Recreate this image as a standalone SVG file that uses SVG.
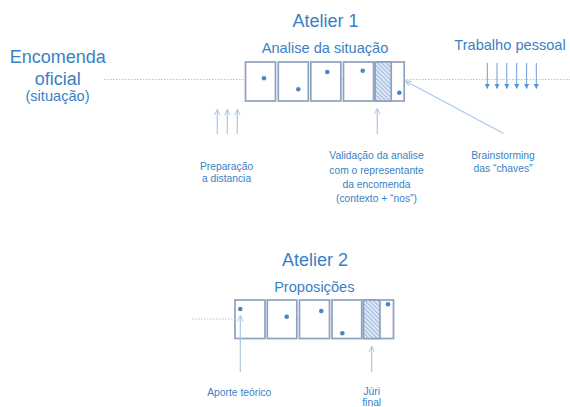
<svg xmlns="http://www.w3.org/2000/svg" width="570" height="407" viewBox="0 0 570 407">
<style>
  text { font-family: "Liberation Sans", Arial, sans-serif; fill: #3a7fc6; text-anchor: middle; }
  .big { font-size: 18px; }
  .mid { font-size: 14.6px; }
  .sm { font-size: 10.3px; }
  .box { fill: #ffffff; stroke: #8da2bf; stroke-width: 1.7; }
  .hat { fill: url(#hatch); stroke: #8da2bf; stroke-width: 1.7; }
  .dot { fill: #5083c3; }
  .dash { stroke: #a9c7e8; stroke-width: 1; stroke-dasharray: 1.5 1.5; fill: none; }
  .arr { stroke: #aac6e6; stroke-width: 1.2; fill: none; }
  .darr { stroke: #6a9fd6; stroke-width: 1; fill: none; }
</style>
<defs>
  <pattern id="hatch" patternUnits="userSpaceOnUse" width="3" height="3" patternTransform="rotate(-45)">
    <rect width="3" height="3" fill="#dfe9f5"/>
    <line x1="0" y1="0" x2="0" y2="3" stroke="#6e98cc" stroke-width="1.2"/>
  </pattern>
  <marker id="open" viewBox="0 0 10 10" refX="9" refY="5" markerWidth="7" markerHeight="7" orient="auto" markerUnits="userSpaceOnUse">
    <path d="M1,1 L9,5 L1,9" fill="none" stroke="#aac6e6" stroke-width="1.4"/>
  </marker>
  <marker id="tri" viewBox="0 0 10 10" refX="9" refY="5" markerWidth="5" markerHeight="5" orient="auto" markerUnits="userSpaceOnUse">
    <path d="M0,0 L10,5 L0,10 Z" fill="#5b93d2"/>
  </marker>
</defs>

<g id="connectors">
  <line class="dash" x1="104" y1="79.5" x2="570" y2="79.5"/>
  <line class="dash" x1="192" y1="319" x2="393" y2="319"/>
  <line class="arr" x1="217.3" y1="134" x2="217.3" y2="109.5" marker-end="url(#open)"/>
  <line class="arr" x1="227.3" y1="134" x2="227.3" y2="109.5" marker-end="url(#open)"/>
  <line class="arr" x1="237.3" y1="134" x2="237.3" y2="109.5" marker-end="url(#open)"/>
  <line class="arr" x1="377.3" y1="134" x2="377.3" y2="108.5" marker-end="url(#open)"/>
  <line class="arr" x1="503.5" y1="133.5" x2="405.5" y2="81" marker-end="url(#open)"/>
  <line class="darr" x1="487.3" y1="63" x2="487.3" y2="88.5" marker-end="url(#tri)"/>
  <line class="darr" x1="497" y1="63" x2="497" y2="88.5" marker-end="url(#tri)"/>
  <line class="darr" x1="506.8" y1="63" x2="506.8" y2="88.5" marker-end="url(#tri)"/>
  <line class="darr" x1="516.7" y1="63" x2="516.7" y2="88.5" marker-end="url(#tri)"/>
  <line class="darr" x1="526.6" y1="63" x2="526.6" y2="88.5" marker-end="url(#tri)"/>
  <line class="darr" x1="536.3" y1="63" x2="536.3" y2="88.5" marker-end="url(#tri)"/>
</g>

<g id="atelier1-boxes">
  <rect class="box" x="245.5" y="62" width="30" height="39"/>
  <rect class="box" x="278.3" y="62" width="30" height="39"/>
  <rect class="box" x="310.8" y="62" width="30" height="39"/>
  <rect class="box" x="343.5" y="62" width="30" height="39"/>
  <rect class="box" x="375.2" y="62" width="29" height="39"/>
  <rect class="hat" x="375.2" y="62" width="16" height="39"/>
  <circle class="dot" cx="264" cy="78.3" r="2.3"/>
  <circle class="dot" cx="298.3" cy="89.3" r="2.3"/>
  <circle class="dot" cx="327.3" cy="72" r="2.3"/>
  <circle class="dot" cx="362.7" cy="70.7" r="2.3"/>
  <circle class="dot" cx="399.3" cy="92.7" r="2.3"/>
</g>

<g id="atelier2-boxes">
  <rect class="box" x="235" y="300" width="30" height="38.5"/>
  <rect class="box" x="267.3" y="300" width="29.5" height="38.5"/>
  <rect class="box" x="299.5" y="300" width="30" height="38.5"/>
  <rect class="box" x="332" y="300" width="29.7" height="38.5"/>
  <rect class="box" x="363.5" y="300" width="30" height="38.5"/>
  <rect class="hat" x="363.5" y="300" width="16.5" height="38.5"/>
  <circle class="dot" cx="240.3" cy="309" r="2.3"/>
  <circle class="dot" cx="286.7" cy="316.7" r="2.3"/>
  <circle class="dot" cx="321.3" cy="311" r="2.3"/>
  <circle class="dot" cx="342.3" cy="333.3" r="2.3"/>
  <circle class="dot" cx="388" cy="304.3" r="2.3"/>
</g>

<g id="connectors2">
  <line class="arr" x1="240.3" y1="372" x2="240.3" y2="315.5" marker-end="url(#open)"/>
  <line class="arr" x1="371.7" y1="372" x2="371.7" y2="346.5" marker-end="url(#open)"/>
</g>

<g id="encomenda">
  <text class="big" x="57.8" y="63">Encomenda</text>
  <text class="big" x="57.7" y="84.5">oficial</text>
  <text class="mid" x="57.5" y="101">(situação)</text>
</g>
<g id="atelier1-title">
  <text class="big" x="325.5" y="26.5">Atelier 1</text>
  <text class="mid" x="325" y="53">Analise da situação</text>
</g>
<g id="trabalho">
  <text class="mid" x="510" y="50">Trabalho pessoal</text>
</g>
<g id="preparacao">
  <text class="sm" x="226.5" y="169.5">Preparação</text>
  <text class="sm" x="226.5" y="182">a distancia</text>
</g>
<g id="validacao">
  <text class="sm" x="376.5" y="159">Validação da analise</text>
  <text class="sm" x="376.5" y="173.5">com o representante</text>
  <text class="sm" x="376.5" y="187.5">da encomenda</text>
  <text class="sm" x="376.5" y="202">(contexto + “nos”)</text>
</g>
<g id="brainstorming">
  <text class="sm" x="503" y="159">Brainstorming</text>
  <text class="sm" x="503" y="172">das “chaves”</text>
</g>
<g id="atelier2-title">
  <text class="big" x="315" y="265.5">Atelier 2</text>
  <text class="mid" x="314.3" y="291.5">Proposições</text>
</g>
<g id="aporte">
  <text class="sm" x="239.3" y="396">Aporte teórico</text>
</g>
<g id="juri">
  <text class="sm" x="371.7" y="394.5">Júri</text>
  <text class="sm" x="371.7" y="405.5">final</text>
</g>
</svg>
